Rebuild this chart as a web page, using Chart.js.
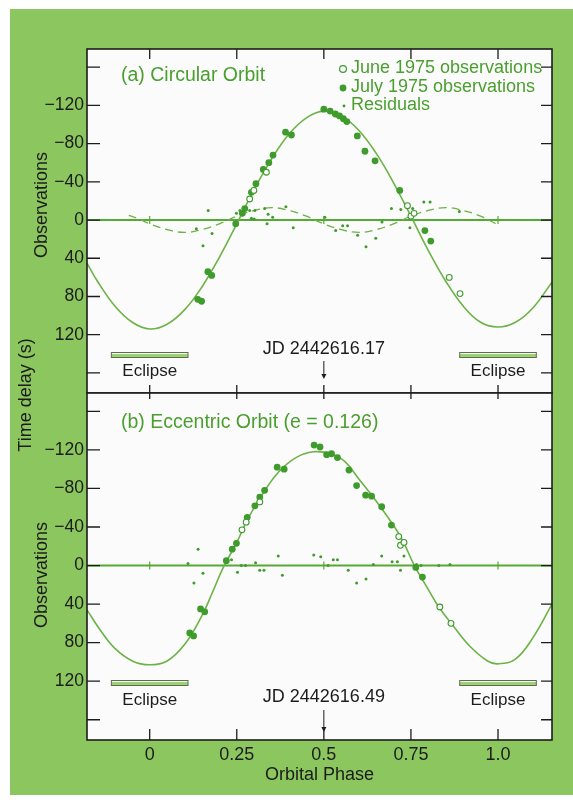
<!DOCTYPE html>
<html>
<head>
<meta charset="utf-8">
<script src="https://cdn.jsdelivr.net/npm/chart.js@4/dist/chart.umd.min.js"></script>
<style>
  body { margin: 0; background: #fff; }
  #bg { position: absolute; left: 10px; top: 9px; width: 563px; height: 786px; background: #8cc65f; }
  canvas { position: absolute; left: 0; top: 0; }
</style>
</head>
<body>
<div id="bg"></div>
<canvas id="chartA" width="573" height="800"></canvas>
<canvas id="chartB" width="573" height="800"></canvas>
<script>
// axes
const xTicks = [0, 0.25, 0.5, 0.75, 1.0];
const xTickLabels = ['0', '0.25', '0.5', '0.75', '1.0'];
const yTicks = [-160, -120, -80, -40, 0, 40, 80, 120, 160];
const yLabeled = [-120, -80, -40, 0, 40, 80, 120];
const zeroMarks = [0, 0.5, 1.0];
const eclipseStart = [-0.11, 0.89];
const eclipseEnd = [0.11, 1.11];
const eclipseLabelAt = [0, 1.0];

// (a) circular orbit fit and residual curve
const fitPhaseA = [-0.18, -0.15, -0.10, -0.05, 0, 0.05, 0.10, 0.15, 0.20, 0.25, 0.30, 0.35, 0.40, 0.45, 0.50, 0.55, 0.60, 0.65, 0.70, 0.75, 0.80, 0.85, 0.90, 0.95, 1.00, 1.05, 1.10, 1.155];
const fitDelayA = [45, 64, 90, 107, 114, 109, 94, 70, 39, 4, -32, -64, -90, -107, -114, -109, -94, -70, -39, -4, 32, 64, 90, 107, 112, 107, 92, 65];
const resCurvePhaseA = [-0.06, -0.03, 0, 0.05, 0.10, 0.15, 0.20, 0.25, 0.30, 0.35, 0.40, 0.45, 0.50, 0.55, 0.60, 0.65, 0.70, 0.75, 0.80, 0.85, 0.90, 0.95, 1.00];
const resCurveDelayA = [-5, -1, 4, 10, 13, 10, 4, -4, -10, -13, -10, -4, 4, 10, 13, 10, 4, -4, -10, -13, -10, -4, 5];

// (a) observations
const junePhaseA = [0.287, 0.299, 0.335, 0.740, 0.750, 0.759, 0.860, 0.891];
const juneDelayA = [-22, -31, -50, -15, -4, -7, 60, 77];
const julyPhaseA = [0.138, 0.149, 0.167, 0.178, 0.247, 0.266, 0.273, 0.292, 0.305, 0.326, 0.342, 0.354, 0.390, 0.407, 0.500, 0.518, 0.533, 0.545, 0.556, 0.566, 0.596, 0.618, 0.647, 0.718, 0.790, 0.807];
const julyDelayA = [83, 85, 54, 58, 4, -7, -12, -29, -38, -53, -60, -68, -92, -89, -116, -114, -111, -109, -106, -103, -88, -72, -62, -31, 11, 22];
const resPhaseA = [0.134, 0.153, 0.168, 0.179, 0.249, 0.259, 0.287, 0.302, 0.292, 0.300, 0.330, 0.340, 0.353, 0.337, 0.391, 0.412, 0.503, 0.534, 0.554, 0.568, 0.597, 0.621, 0.649, 0.667, 0.694, 0.721, 0.755, 0.747, 0.787, 0.805, 0.889];
const resDelayA = [9, 27, -10, 14, -7, -10, -10, -10, -2, -1, -12, -6, -3, 4, -14, 8, -3, 11, 6, 6, 16, 28, 19, 2, -12, -11, -12, 8, -19, -19, -9];

// (b) eccentric orbit fit
const fitPhaseB = [-0.18, -0.14, -0.10, -0.05, 0, 0.05, 0.10, 0.15, 0.18, 0.21, 0.25, 0.28, 0.32, 0.37, 0.42, 0.47, 0.52, 0.56, 0.60, 0.66, 0.72, 0.76, 0.80, 0.83, 0.87, 0.92, 0.97, 1.00, 1.05, 1.10, 1.155];
const fitDelayB = [46, 68, 86, 99, 103, 99, 82, 52, 28, 3, -24, -47, -72, -97, -112, -118, -116, -108, -90, -62, -30, 0, 25, 43, 62, 84, 99, 102, 97, 75, 40];

// (b) observations
const junePhaseB = [0.265, 0.277, 0.316, 0.715, 0.720, 0.730, 0.833, 0.865];
const juneDelayB = [-37, -45, -66, -30, -21, -24, 43, 60];
const julyPhaseB = [0.115, 0.126, 0.146, 0.158, 0.220, 0.237, 0.249, 0.280, 0.302, 0.316, 0.330, 0.366, 0.386, 0.472, 0.489, 0.508, 0.522, 0.539, 0.572, 0.594, 0.620, 0.637, 0.666, 0.694, 0.764, 0.783];
const julyDelayB = [70, 73, 45, 48, -5, -17, -23, -50, -62, -71, -78, -102, -100, -125, -123, -115, -116, -112, -99, -83, -73, -72, -61, -42, 2, 12];
const resPhaseB = [0.110, 0.127, 0.139, 0.153, 0.235, 0.252, 0.263, 0.275, 0.304, 0.316, 0.328, 0.369, 0.381, 0.471, 0.491, 0.512, 0.527, 0.539, 0.570, 0.594, 0.621, 0.642, 0.666, 0.696, 0.711, 0.720, 0.730, 0.766, 0.779, 0.830, 0.862];
const resDelayB = [-2, 18, -17, 8, -6, 7, 0, 0, -3, 5, 5, -10, 10, -11, -9, 0, -6, -6, 5, 18, 14, -1, -10, -4, -4, 5, -10, -1, 0, 0, -1];

const INK = '#1c1c1c';
const LINE = '#6cb246';
const DOT = '#3e9b2c';
const TEXT_GREEN = '#4a9f2e';
const FONT = "'Liberation Sans', Arial, Helvetica, sans-serif";

Chart.defaults.font.family = FONT;
Chart.defaults.color = INK;

const pts = (xs, ys) => xs.map((x, i) => ({ x: x, y: ys[i] }));
const fmtDelay = v => v < 0 ? '\u2212' + Math.abs(v) : String(v);

function text(ctx, s, x, y, opt) {
  opt = opt || {};
  ctx.save();
  ctx.font = (opt.size || 18) + 'px ' + FONT;
  ctx.fillStyle = opt.color || INK;
  ctx.textAlign = opt.align || 'left';
  ctx.textBaseline = 'middle';
  ctx.translate(x, y);
  if (opt.rot) ctx.rotate(opt.rot);
  ctx.fillText(s, 0, 0);
  ctx.restore();
}

function arrow(ctx, x, y1, y2) {
  ctx.save();
  ctx.strokeStyle = INK;
  ctx.fillStyle = INK;
  ctx.lineWidth = 1;
  ctx.beginPath();
  ctx.moveTo(x, y1);
  ctx.lineTo(x, y2 - 3);
  ctx.stroke();
  ctx.beginPath();
  ctx.moveTo(x - 2.5, y2 - 5);
  ctx.lineTo(x + 2.5, y2 - 5);
  ctx.lineTo(x, y2);
  ctx.closePath();
  ctx.fill();
  ctx.restore();
}

function panelPlugin(cfg) {
  return {
    id: 'panel' + cfg.name,
    beforeDatasetsDraw(chart) {
      const { ctx, chartArea: a, scales: { x, y } } = chart;
      ctx.save();
      ctx.fillStyle = '#fcfbfc';
      ctx.fillRect(a.left, a.top, a.right - a.left, a.bottom - a.top);
      // zero line with small phase marks
      const y0 = y.getPixelForValue(0);
      ctx.strokeStyle = '#55a935';
      ctx.lineWidth = 2;
      ctx.beginPath();
      ctx.moveTo(a.left, y0);
      ctx.lineTo(a.right, y0);
      ctx.stroke();
      ctx.lineWidth = 1.2;
      ctx.beginPath();
      zeroMarks.forEach(p => {
        const px = x.getPixelForValue(p);
        ctx.moveTo(px, y0 - 4);
        ctx.lineTo(px, y0 + 4);
      });
      ctx.stroke();
      ctx.restore();
    },
    afterDraw(chart) {
      const { ctx, chartArea: a, scales: { x, y } } = chart;
      ctx.save();
      // eclipse bars
      eclipseStart.forEach((p, i) => {
        const x1 = x.getPixelForValue(p);
        const x2 = x.getPixelForValue(eclipseEnd[i]);
        ctx.fillStyle = '#9fd071';
        ctx.fillRect(x1, cfg.eclipseY - 2.5, x2 - x1, 5);
        ctx.fillStyle = '#f4f8ee';
        ctx.fillRect(x1, cfg.eclipseY - 2.5, x2 - x1, 1.5);
        ctx.strokeStyle = '#5d6f52';
        ctx.lineWidth = 1;
        ctx.strokeRect(x1, cfg.eclipseY - 2.5, x2 - x1, 5);
        text(ctx, 'Eclipse', x.getPixelForValue(eclipseLabelAt[i]), cfg.eclipseTextY, { size: 17, align: 'center' });
      });
      // epoch label
      const xm = x.getPixelForValue(0.5);
      text(ctx, cfg.jd, xm, cfg.jdY, { size: 18, align: 'center' });
      arrow(ctx, xm, cfg.arrowTop, cfg.arrowBottom);
      // frame and inward ticks
      ctx.strokeStyle = INK;
      ctx.lineWidth = 1.3;
      ctx.beginPath();
      yTicks.forEach(v => {
        const py = y.getPixelForValue(v);
        ctx.moveTo(a.left, py);
        ctx.lineTo(a.left + 13, py);
        ctx.moveTo(a.right - 11, py);
        ctx.lineTo(a.right, py);
      });
      xTicks.forEach(v => {
        const px = x.getPixelForValue(v);
        ctx.moveTo(px, a.top);
        ctx.lineTo(px, a.top + cfg.topTick);
        ctx.moveTo(px, a.bottom);
        ctx.lineTo(px, a.bottom - cfg.bottomTick);
      });
      ctx.stroke();
      ctx.lineWidth = 1.6;
      ctx.strokeRect(a.left, a.top, a.right - a.left, a.bottom - a.top);
      // panel titles
      text(ctx, cfg.title, 121, cfg.titleY, { size: 19.5, color: TEXT_GREEN });
      text(ctx, 'Observations', 42, cfg.obsY, { size: 18, rot: -Math.PI / 2, align: 'center' });
      if (cfg.extra) cfg.extra(ctx);
      ctx.restore();
    }
  };
}

function legendA(ctx) {
  const rows = ['June 1975 observations', 'July 1975 observations', 'Residuals'];
  const ys = [68, 87, 105];
  rows.forEach((r, i) => text(ctx, r, 351, ys[i], { size: 18, color: TEXT_GREEN }));
  ctx.save();
  ctx.lineWidth = 1.2;
  ctx.strokeStyle = DOT;
  ctx.fillStyle = '#fff';
  ctx.beginPath(); ctx.arc(343, 69, 3.4, 0, Math.PI * 2); ctx.fill(); ctx.stroke();
  ctx.fillStyle = DOT;
  ctx.beginPath(); ctx.arc(343, 88, 3.4, 0, Math.PI * 2); ctx.fill();
  ctx.beginPath(); ctx.arc(344, 106, 1.4, 0, Math.PI * 2); ctx.fill();
  ctx.restore();
}

function scales(showX) {
  return {
    x: {
      type: 'linear', min: -0.18, max: 1.155,
      display: showX,
      afterFit: s => { s.height = showX ? 60 : 0; },
      afterBuildTicks: s => { s.ticks = xTicks.map(v => ({ value: v })); },
      grid: { display: false },
      border: { display: false },
      ticks: {
        autoSkip: false, padding: -4, maxRotation: 0,
        font: { size: 18 }, color: INK,
        callback: (v, i) => xTickLabels[i]
      },
      title: { display: true, text: 'Orbital Phase', font: { size: 18 }, color: INK, padding: { top: 0, bottom: 14 } }
    },
    y: {
      type: 'linear', min: -179, max: 181, reverse: true,
      afterFit: s => { s.width = 87; },
      afterBuildTicks: s => { s.ticks = yTicks.map(v => ({ value: v })); },
      grid: { display: false },
      border: { display: false },
      ticks: {
        autoSkip: false, padding: -5,
        font: { size: 17.5 }, color: INK,
        callback: v => yLabeled.includes(v) ? fmtDelay(v) : ''
      }
    }
  };
}

function datasets(fitP, fitD, juneP, juneD, julyP, julyD, resP, resD, resCurve) {
  const list = [
    { data: pts(fitP, fitD), showLine: true, pointRadius: 0, borderColor: LINE, borderWidth: 1.6, tension: 0.4, order: 5 },
    { data: pts(resP, resD), pointRadius: 1.5, pointBackgroundColor: DOT, pointBorderWidth: 0, order: 3 },
    { data: pts(julyP, julyD), pointRadius: 3.4, pointBackgroundColor: DOT, pointBorderWidth: 0, order: 2 },
    { data: pts(juneP, juneD), pointRadius: 2.9, pointBackgroundColor: '#ffffff', pointBorderColor: DOT, pointBorderWidth: 1.1, order: 1 }
  ];
  if (resCurve) {
    list.push({ data: pts(resCurve[0], resCurve[1]), showLine: true, pointRadius: 0, borderColor: LINE, borderWidth: 1.3, borderDash: [8, 5], tension: 0.4, order: 4 });
  }
  return list;
}

const common = {
  responsive: false,
  animation: false,
  plugins: { legend: { display: false }, tooltip: { enabled: false } }
};

new Chart(document.getElementById('chartA'), {
  type: 'scatter',
  data: { datasets: datasets(fitPhaseA, fitDelayA, junePhaseA, juneDelayA, julyPhaseA, julyDelayA, resPhaseA, resDelayA, [resCurvePhaseA, resCurveDelayA]) },
  options: Object.assign({}, common, {
    layout: { padding: { left: 0, top: 49, right: 21, bottom: 407 } },
    scales: scales(false)
  }),
  plugins: [panelPlugin({
    name: 'A', title: '(a) Circular Orbit', titleY: 76, obsY: 205,
    jd: 'JD 2442616.17', jdY: 349, arrowTop: 361, arrowBottom: 379,
    eclipseY: 355, eclipseTextY: 371, topTick: 10, bottomTick: 8,
    extra: legendA
  })]
});

new Chart(document.getElementById('chartB'), {
  type: 'scatter',
  data: { datasets: datasets(fitPhaseB, fitDelayB, junePhaseB, juneDelayB, julyPhaseB, julyDelayB, resPhaseB, resDelayB, null) },
  options: Object.assign({}, common, {
    layout: { padding: { left: 0, top: 393, right: 21, bottom: 0 } },
    scales: scales(true)
  }),
  plugins: [panelPlugin({
    name: 'B', title: '(b) Eccentric Orbit (e = 0.126)', titleY: 423, obsY: 575,
    jd: 'JD 2442616.49', jdY: 697, arrowTop: 710, arrowBottom: 732,
    eclipseY: 683, eclipseTextY: 700, topTick: 6, bottomTick: 11,
    extra: ctx => text(ctx, 'Time delay (s)', 26, 395, { size: 18, rot: -Math.PI / 2, align: 'center' })
  })]
});
</script>
</body>
</html>
